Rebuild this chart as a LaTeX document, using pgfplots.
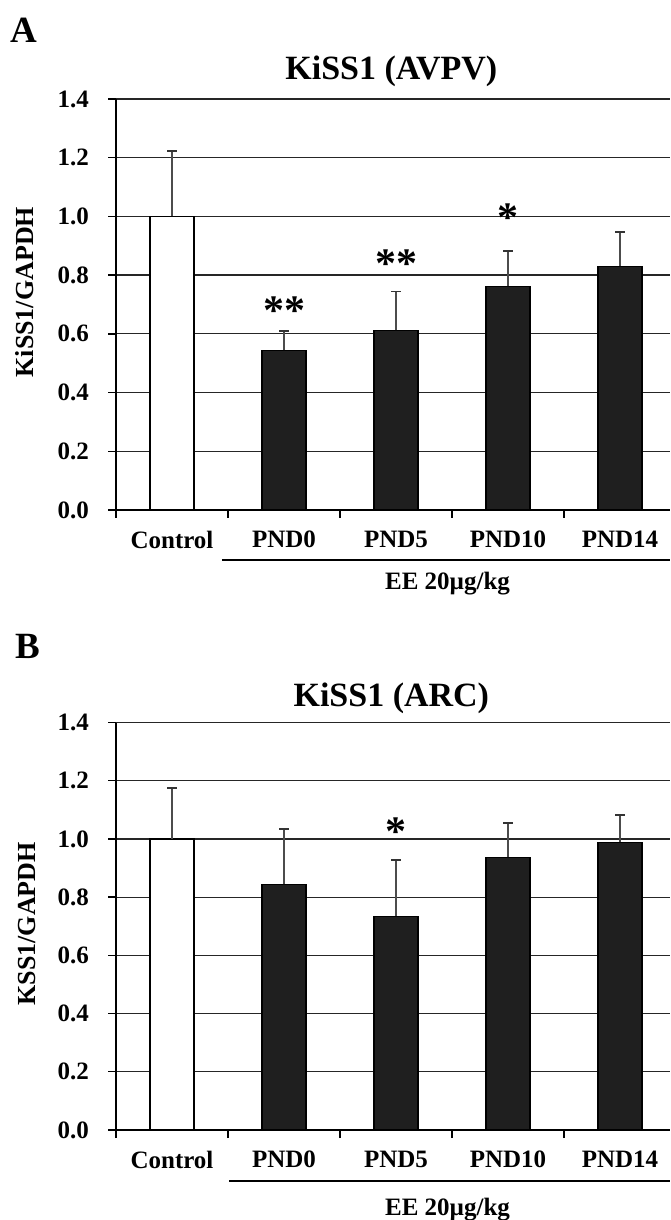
\documentclass[border=0pt]{standalone}
\usepackage{fontspec}
\setmainfont{Liberation Serif}
\usepackage{pgfplots}
\pgfplotsset{compat=1.18}

\newcommand\lblfont{\fontsize{12.5}{14}\selectfont\bfseries}
\newcommand\ttlfont{\fontsize{17}{20}\selectfont\bfseries}
\newcommand\starfont{\fontsize{21}{21}\selectfont\bfseries}

\tikzset{sigstar/.style={anchor=base, yshift=-11pt, inner sep=0, font=\starfont}}

\pgfplotsset{
  kiss/.style={
    scale only axis, width=277pt,
    xmin=-0.5, xmax=4.446, ymin=0, ymax=1.4,
    axis x line*=bottom, axis y line*=left,
    axis line style={line width=0.7pt, black},
    ytick={0,0.2,0.4,0.6,0.8,1.0,1.2,1.4},
    ymajorgrids, grid style={line width=0.65pt, black!85},
    tick align=outside, major tick length=4pt,
    tick style={line width=0.7pt, black},
    xtick={-0.5,0.5,1.5,2.5,3.5}, xticklabels={,,,,},
    extra x ticks={0,1,2,3,4},
    extra x tick labels={Control,PND0,PND5,PND10,PND14},
    extra x tick style={major tick length=0pt, grid=none,
      xticklabel style={yshift=-7pt}},
    ticklabel style={font=\lblfont},
    yticklabel style={xshift=-6pt, /pgf/number format/.cd, fixed, fixed zerofill,
      precision=1, assume math mode=true},
    label style={font=\fontsize{13}{15}\selectfont\bfseries},
    ybar, bar width=22pt, clip=false,
  },
  ctrl/.style={fill=white, draw=black, line width=0.6pt, bar shift=0pt,
    error bars/.cd, y dir=plus, y explicit,
    error bar style={line width=0.6pt, black!70},
    error mark options={rotate=90, mark size=2.5pt, line width=0.9pt, black!80}},
  trt/.style={fill=black!88, draw=black, line width=0.6pt, bar shift=0pt,
    error bars/.cd, y dir=plus, y explicit,
    error bar style={line width=0.6pt, black!70},
    error mark options={rotate=90, mark size=2.5pt, line width=0.9pt, black!80}},
}

\begin{document}
\begin{tikzpicture}
\useasboundingbox (0,0) rectangle (335pt,610pt);

\node[anchor=base west, inner sep=0, font=\fontsize{18.5}{20}\selectfont\bfseries] at (5pt,588.5pt) {A};
\node[anchor=base west, inner sep=0, font=\fontsize{18.5}{20}\selectfont\bfseries] at (7.5pt,280.5pt) {B};

% panel A
\begin{axis}[kiss, height=205.5pt, at={(58pt,355pt)}, anchor=south west,
  ylabel={KiSS1/GAPDH}, ylabel style={at={(rel axis cs:-0.1643,0.53)}, anchor=center}]
\addplot[ctrl] coordinates {(0,1.0) +- (0,0.222)};
\addplot[trt] coordinates {(1,0.544) +- (0,0.065) (2,0.612) +- (0,0.132)
  (3,0.762) +- (0,0.121) (4,0.830) +- (0,0.117)};
\node[sigstar] at (axis cs:1,0.706) {**};
\node[sigstar] at (axis cs:2,0.866) {**};
\node[sigstar] at (axis cs:3,1.022) {*};
\node[anchor=base, font=\ttlfont] at ([yshift=9.5pt]rel axis cs:0.497,1) {KiSS1 (AVPV)};
\draw[line width=0.7pt] ([yshift=-25pt]axis cs:0.445,0) -- ([yshift=-25pt]axis cs:4.446,0);
\node[anchor=base, font=\lblfont] at ([yshift=-40pt]axis cs:2.46,0) {EE 20µg/kg};
\end{axis}

% panel B
\begin{axis}[kiss, height=203.7pt, at={(58pt,45pt)}, anchor=south west,
  ylabel={KSS1/GAPDH}, ylabel style={at={(rel axis cs:-0.16,0.506)}, anchor=center}]
\addplot[ctrl] coordinates {(0,1.0) +- (0,0.175)};
\addplot[trt] coordinates {(1,0.844) +- (0,0.191) (2,0.735) +- (0,0.194)
  (3,0.937) +- (0,0.118) (4,0.988) +- (0,0.094)};
\node[sigstar] at (axis cs:2,1.053) {*};
\node[anchor=base, font=\ttlfont] at ([yshift=7.8pt]rel axis cs:0.497,1) {KiSS1 (ARC)};
\draw[line width=0.7pt] ([yshift=-25.5pt]axis cs:0.51,0) -- ([yshift=-25.5pt]axis cs:4.446,0);
\node[anchor=base, font=\lblfont] at ([yshift=-42.5pt]axis cs:2.46,0) {EE 20µg/kg};
\end{axis}
\end{tikzpicture}
\end{document}
